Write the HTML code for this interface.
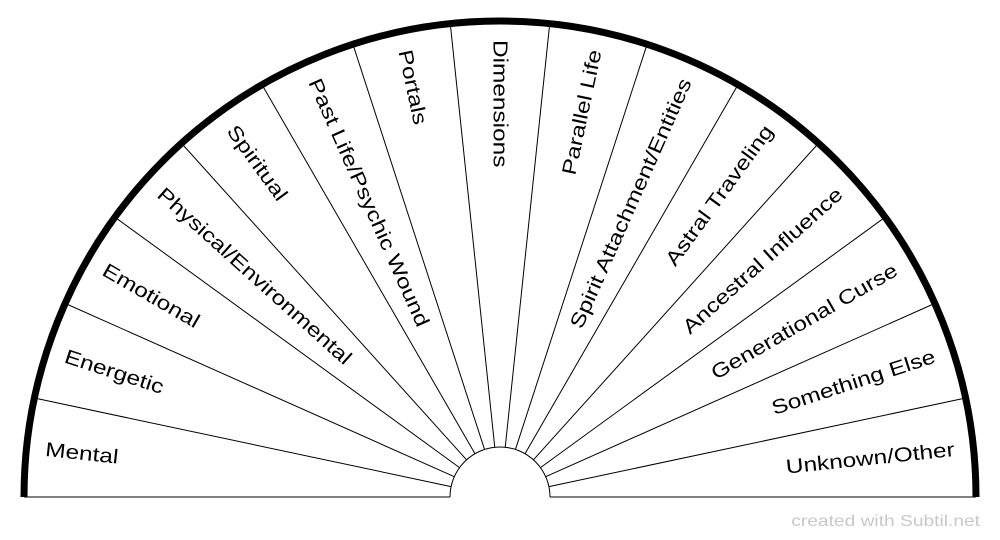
<!DOCTYPE html>
<html><head><meta charset="utf-8"><style>
html,body{margin:0;padding:0;background:#fff;width:1000px;height:540px;overflow:hidden}
svg{display:block}
text{font-family:"Liberation Sans",Arial,sans-serif}
</style></head><body>
<svg id="s" width="1000" height="540" viewBox="0 0 1000 540" xmlns="http://www.w3.org/2000/svg">
<text transform="translate(980 526) scale(1.2 1)" text-anchor="end" font-size="16" fill="#c8c8c8">created with Subtil.net</text>
</svg>
<script>
var s=document.getElementById('s'),NS='http://www.w3.org/2000/svg';
var cx=500,cy=497,R=476,r=50;
function el(n,a,t){var e=document.createElementNS(NS,n);for(var k in a)e.setAttribute(k,a[k]);if(t)e.textContent=t;s.appendChild(e);return e;}
for(var i=0;i<=15;i++){var a=Math.PI*i/15;var c=Math.cos(a),sn=Math.sin(a);
el('line',{x1:cx+r*c,y1:cy-r*sn,x2:cx+R*c,y2:cy-R*sn,stroke:'#000','stroke-width':1});}
el('path',{d:'M'+(cx-r)+' '+cy+' A'+r+' '+r+' 0 0 1 '+(cx+r)+' '+cy,fill:'none',stroke:'#000','stroke-width':1});
el('path',{d:'M'+(cx-R)+' '+cy+' A'+R+' '+R+' 0 0 1 '+(cx+R)+' '+cy,fill:'none',stroke:'#000','stroke-width':7});
var L=['Mental','Energetic','Emotional','Physical/Environmental','Spiritual','Past Life/Psychic Wound','Portals','Dimensions','Parallel Life','Spirit Attachment/Entities','Astral Traveling','Ancestral Influence','Generational Curse','Something Else','Unknown/Other'];
for(var i=0;i<15;i++){var deg=174-12*i;var a=deg*Math.PI/180;var rr=457;
var x=cx+rr*Math.cos(a),y=cy-rr*Math.sin(a);var rot,anch;
if(deg>=90){rot=-(deg+180);anch='start';}else{rot=-deg;anch='end';}
el('text',{x:0,y:0,'font-size':20,'text-anchor':anch,'dominant-baseline':'central',transform:'translate('+x+' '+y+') rotate('+rot+') scale(1.22 1)'},L[i]);}
</script>
</body></html>
